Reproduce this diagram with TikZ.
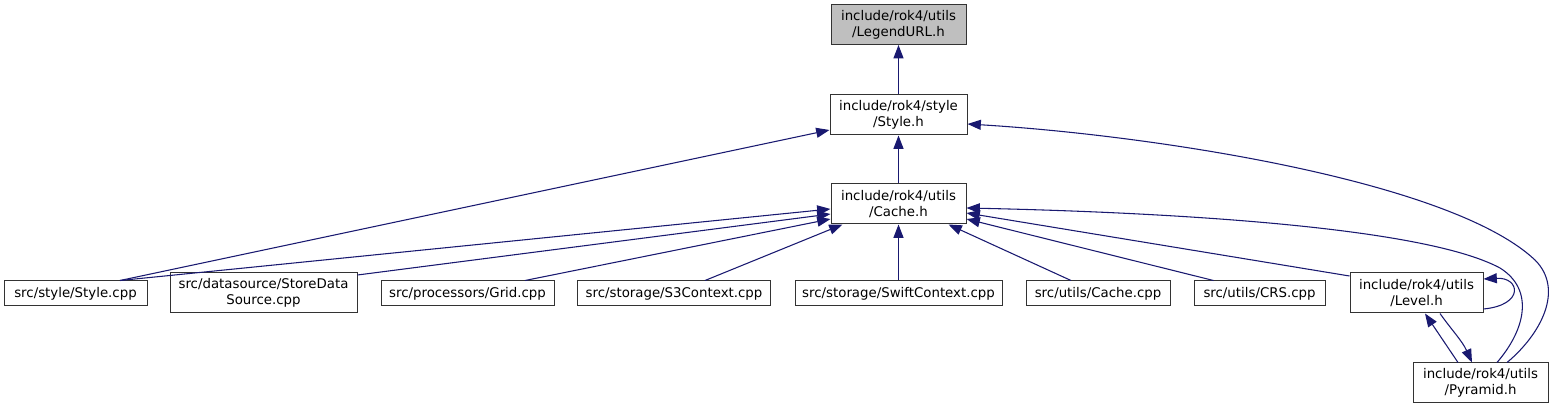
\documentclass[tikz,border=0pt]{standalone}
\usepackage{fontspec}
\setmainfont{DejaVu Sans}
\usetikzlibrary{arrows.meta}
\definecolor{edgeblue}{HTML}{191970}

\begin{document}
\begin{tikzpicture}[
        x=0.75pt, y=-0.75pt,
        file/.style={draw=black!80, rectangle, align=center, inner sep=0pt, line width=0.75pt, minimum height=18.75pt, font=\fontsize{10}{12}\selectfont},
        header/.style={file, minimum height=30pt},
        bw/.style={minimum width=#1*0.75pt},
        arrow/.style={->, >={Triangle[length=10pt, width=7.5pt]}, draw=edgeblue, fill=none, line width=0.8pt}
    ]
        \useasboundingbox (0,0) rectangle (1557,409);

        \node[header, fill=black!25, bw=135] (legend) at (898.5, 24.5) {include/rok4/utils\\/LegendURL.h};
        \node[header, bw=137] (styleh) at (898.5, 115) {include/rok4/style\\/Style.h};
        \node[header, bw=135] (cacheh) at (898.5, 204) {include/rok4/utils\\/Cache.h};

        \node[file, bw=143] (stylecpp) at (75.5, 293.5) {src/style/Style.cpp};
        \node[header, bw=187] (storeds) at (263.5, 293) {src/datasource/StoreData\\Source.cpp};
        \node[file, bw=173] (grid) at (467.5, 293.5) {src/processors/Grid.cpp};
        \node[file, bw=193] (s3) at (674, 293.5) {src/storage/S3Context.cpp};
        \node[file, bw=207] (swift) at (898.5, 293.5) {src/storage/SwiftContext.cpp};
        \node[file, bw=144] (cachecpp) at (1098, 293.5) {src/utils/Cache.cpp};
        \node[file, bw=131] (crs) at (1259.5, 293.5) {src/utils/CRS.cpp};
        \node[header, bw=133] (level) at (1416.5, 293) {include/rok4/utils\\/Level.h};
        \node[header, bw=135] (pyramid) at (1480.5, 383) {include/rok4/utils\\/Pyramid.h};

        % top of the graph
        \draw[arrow] (styleh) -- (legend);
        \draw[arrow] (cacheh) -- (styleh);
        \draw[arrow] ([shift={(44.5,0)}]stylecpp.north) -- ([shift={(0,15)}]styleh.west);
        \draw[arrow] ([shift={(26.5,0)}]pyramid.north) .. controls (1540,335) and (1565,290) .. (1535,260)
            .. controls (1450,180) and (1150,135) .. ([shift={(0,9)}]styleh.east);

        % files including Cache.h
        \draw[arrow] ([shift={(44.5,0)}]stylecpp.north) -- ([shift={(0,5)}]cacheh.west);
        \draw[arrow] ([shift={(0,-18)}]storeds.east) -- ([shift={(0,10)}]cacheh.west);
        \draw[arrow] ([shift={(57.5,0)}]grid.north) -- ([shift={(0,15)}]cacheh.west);
        \draw[arrow] ([shift={(31,0)}]s3.north) -- ([shift={(-56,0)}]cacheh.south);
        \draw[arrow] (swift) -- (cacheh);
        \draw[arrow] ([shift={(-27,0)}]cachecpp.north) -- ([shift={(50,0)}]cacheh.south);
        \draw[arrow] ([shift={(-46,0)}]crs.north) -- ([shift={(0,15)}]cacheh.east);
        \draw[arrow] ([shift={(0,-17)}]level.west) -- ([shift={(0,9)}]cacheh.east);
        \draw[arrow] ([shift={(16.5,0)}]pyramid.north) .. controls (1525,330) and (1535,290) .. (1500,268)
            .. controls (1420,225) and (1150,212) .. ([shift={(0,4)}]cacheh.east);

        % Level.h and Pyramid.h
        \draw[arrow] ([shift={(0,16)}]level.east) .. controls (1525,305) and (1520,277) .. ([shift={(0,-14)}]level.east);
        \draw[arrow] ([shift={(-22.5,0)}]pyramid.north) -- ([shift={(8.5,0)}]level.south);
        \draw[arrow] ([shift={(23.5,0)}]level.south) .. controls +(12,17) and +(-10,-22) .. ([shift={(-8.5,0)}]pyramid.north);

    \end{tikzpicture}
\end{document}
